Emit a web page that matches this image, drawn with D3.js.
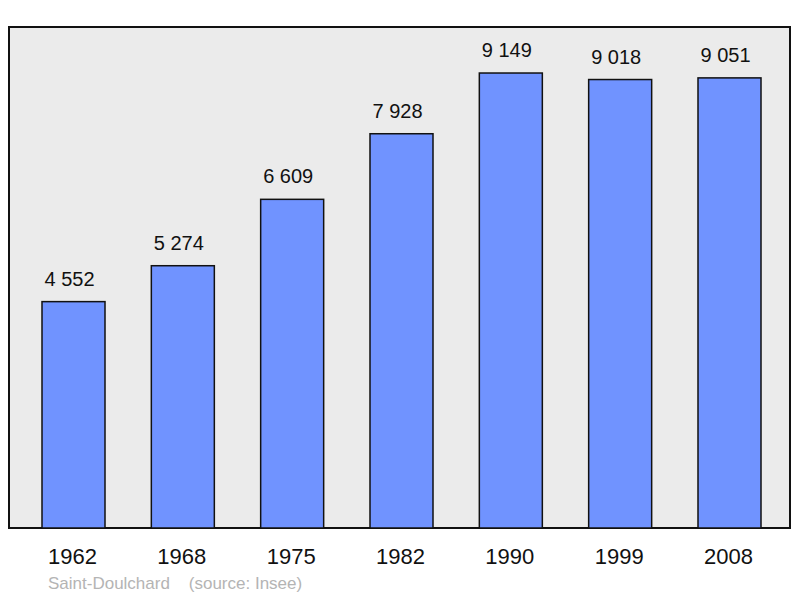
<!DOCTYPE html>
<html><head><meta charset="utf-8">
<script src="https://cdn.jsdelivr.net/npm/d3@7"></script>
<style>body{margin:0;background:#fff}</style></head>
<body><svg id="c" width="800" height="598"></svg>
<script>
const years = ["1962","1968","1975","1982","1990","1999","2008"];
const population = [4552,5274,6609,7928,9149,9018,9051];
const labels = ["4 552","5 274","6 609","7 928","9 149","9 018","9 051"];

const svg = d3.select("#c");
const x = d3.scalePoint().domain(years).range([73.5,729.5]);
const y = d3.scaleLinear().domain([0,10000]).range([528,30.7]);
const bw = 63;

svg.append("rect").attr("x",9).attr("y",27).attr("width",781).attr("height",501)
  .attr("fill","#ebebeb").attr("stroke","#111").attr("stroke-width",2);

svg.selectAll(".bar").data(population).join("rect")
  .attr("x",(d,i)=>x(years[i])-bw/2).attr("y",d=>y(d))
  .attr("width",bw).attr("height",d=>y(0)-y(d))
  .attr("fill","#7093ff").attr("stroke","#111").attr("stroke-width",1.5);

svg.selectAll(".val").data(population).join("text")
  .attr("x",(d,i)=>x(years[i])-4).attr("y",d=>y(d)-16)
  .attr("text-anchor","middle").attr("font-family","Liberation Sans, Arial, sans-serif")
  .attr("font-size",20).attr("fill","#111").text((d,i)=>labels[i]);

svg.selectAll(".yr").data(years).join("text")
  .attr("x",d=>x(d)-1).attr("y",564)
  .attr("text-anchor","middle").attr("font-family","Liberation Sans, Arial, sans-serif")
  .attr("font-size",22).attr("fill","#111").text(d=>d);

svg.append("text").attr("x",48).attr("y",589).attr("font-family","Liberation Sans, Arial, sans-serif")
  .attr("font-size",17).attr("fill","#b4b4b4").attr("xml:space","preserve")
  .text("Saint-Doulchard    (source: Insee)");
</script></body></html>
